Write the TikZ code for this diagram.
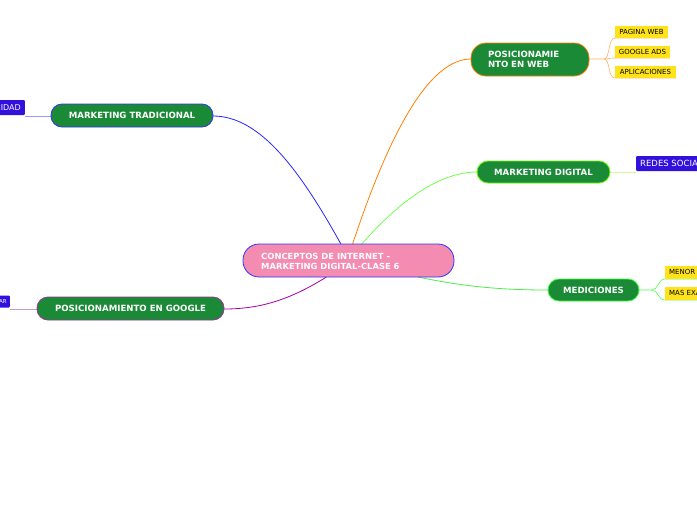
\documentclass[tikz,border=0pt]{standalone}
\usepackage{fontspec}
\setmainfont{DejaVu Sans}
\begin{document}
\begin{tikzpicture}[x=1pt,y=-1pt,
 main/.style={draw,line width=0.8pt,fill=mgreen,rounded corners=11pt,text=white,font=\bfseries\fontsize{8.6}{10}\selectfont,inner sep=0,anchor=center},
 leafy/.style={fill=myel,font=\fontsize{7}{7.5}\selectfont,inner sep=0,anchor=center},
 leafb/.style={fill=mblue,text=white,font=\fontsize{8.5}{9}\selectfont,inner sep=0,rounded corners=1pt},
 conn/.style={line width=0.8pt}]
\definecolor{mgreen}{HTML}{1A8A36}
\definecolor{myel}{HTML}{FFE31A}
\definecolor{mblue}{HTML}{3311DD}
\definecolor{mpink}{HTML}{F48BB1}
\useasboundingbox (0,0) rectangle (697,520);
\clip (0,0) rectangle (697,520);
\fill[white] (0,0) rectangle (697,520);
\coordinate (ct1) at (342,246);
\coordinate (ct2) at (352,246);
\coordinate (ct3) at (360,246);
\coordinate (ct4) at (418,277);
\coordinate (ct5) at (328,276);
\draw[conn,blue!85] (ct1) .. controls (300,170) and (260,116) .. (213,116);
\draw[conn,orange] (ct2) .. controls (390,130) and (430,59) .. (471,59);
\draw[conn,green!80!yellow!70!white] (ct3) .. controls (400,200) and (440,172) .. (477,172);
\draw[conn,green!90!black!70!white] (ct4) .. controls (470,288) and (510,290) .. (548,290);
\draw[conn,violet!70!magenta] (ct5) .. controls (290,300) and (260,309) .. (224,309);
\draw[orange!60,line width=0.6pt] (589,59) -- (604,59) .. controls (610,59) and (608,38) .. (615,38) -- (668,38);
\draw[orange!60,line width=0.6pt] (604,59) .. controls (610,59) and (608,58) .. (615,58) -- (670,58);
\draw[orange!60,line width=0.6pt] (604,59) .. controls (610,59) and (608,78) .. (615,78) -- (676,78);
\draw[myel!60!green!40,line width=0.8pt] (610,172) -- (636,172);
\draw[green!70,line width=0.6pt] (639,290) -- (652,290) .. controls (658,290) and (658,279) .. (665,279) -- (697,279);
\draw[green!70,line width=0.6pt] (652,290) .. controls (658,290) and (658,300) .. (665,300) -- (697,300);
\draw[blue!40,line width=0.8pt] (25,116) -- (51,116);
\draw[violet!40,line width=0.8pt] (10,309) -- (37,309);
\node[draw=blue!80,line width=0.8pt,fill=mpink,rounded corners=16pt,minimum width=211pt,minimum height=33pt,inner sep=0] (c) at (348.5,260.5) {};
\node[text=white,font=\bfseries\fontsize{8.4}{10}\selectfont,align=left,anchor=west,inner sep=0] (ct) at (261,261) {CONCEPTOS DE INTERNET -\\MARKETING DIGITAL-CLASE 6};
\node[main,draw=blue!80,minimum width=162pt,minimum height=23pt] (mt) at (132,115.5) {MARKETING TRADICIONAL};
\node[main,draw=violet!80,minimum width=187pt,minimum height=23pt] (pg) at (130.5,308.5) {POSICIONAMIENTO EN GOOGLE};
\node[main,draw=orange,rounded corners=15pt,minimum width=118pt,minimum height=33pt,text width=100pt,align=left] (pw) at (530,59.5) {\hspace*{8pt}POSICIONAMIE\\\hspace*{8pt}NTO EN WEB};
\node[main,draw=green!60!yellow,minimum width=133pt,minimum height=22pt] (md) at (543.5,172) {MARKETING DIGITAL};
\node[main,draw=green!80,minimum width=91pt,minimum height=22pt] (me) at (593.5,290) {MEDICIONES};
\node[leafy,minimum width=53pt,minimum height=12pt] (l1) at (641.5,31.5) {PAGINA WEB};
\node[leafy,minimum width=55pt,minimum height=12pt] (l2) at (642.5,51.5) {GOOGLE ADS};
\node[leafy,minimum width=61pt,minimum height=12pt] (l3) at (645.5,71.5) {APLICACIONES};
\node[leafy,anchor=west,minimum height=13pt,inner xsep=4pt] (l4) at (665,272) {MENOR COSTO};
\node[leafy,anchor=west,minimum height=13pt,inner xsep=4pt] (l5) at (665,293) {MAS EXACTITUD};
\node[leafb,anchor=west,minimum height=15pt,inner xsep=4pt] (rs) at (636,163.5) {REDES SOCIALES};
\node[leafb,anchor=east,minimum height=15pt,inner xsep=4pt,font=\fontsize{8}{9}\selectfont] (pu) at (25,107.5) {PUBLICIDAD};
\node[leafb,anchor=east,minimum height=12pt,inner xsep=3pt,font=\fontsize{5.5}{6}\selectfont] (es) at (10,301.5) {ESCALAR};
\end{tikzpicture}
\end{document}
